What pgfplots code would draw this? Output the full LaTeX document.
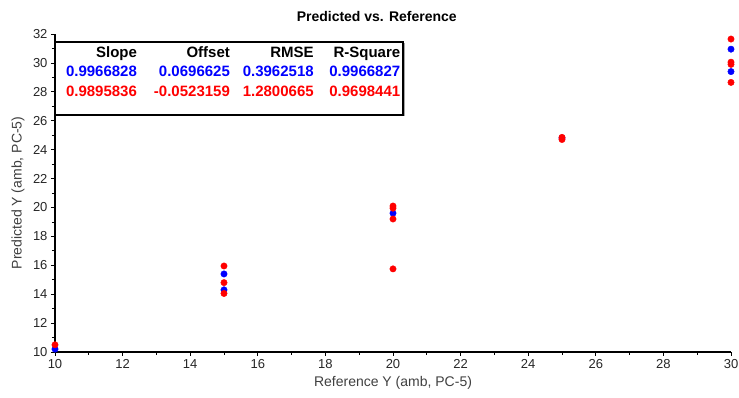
\documentclass[border=0pt]{standalone}
\usepackage{fontspec}
\setmainfont{Liberation Sans}
\usepackage{pgfplots}
\pgfplotsset{compat=1.18}
\usetikzlibrary{calc}
\definecolor{pblue}{RGB}{0,0,255}
\definecolor{pred}{RGB}{255,0,0}
\begin{document}
\begin{tikzpicture}
\begin{axis}[name=ax, scale only axis, width=676pt, height=318pt,
  xmin=10, xmax=30, ymin=10, ymax=32,
  xtick distance=2, ytick distance=2, minor tick num=1,
  axis x line=bottom, axis y line=left,
  axis line style={-, line width=1.4pt, black},
  tick align=outside, major tick length=4pt, minor tick length=3pt,
  every tick/.style={black, line width=0.8pt},
  ticklabel style={font=\fontsize{13}{15}\selectfont, text=black!85},
  /pgf/number format/assume math mode=true,
  clip=false,
  xlabel={Reference Y (amb, PC-5)},
  ylabel={Predicted Y (amb, PC-5)},
  every axis x label/.style={at={(axis description cs:0.5,-0.0975)}, anchor=center, font=\fontsize{14}{16}\selectfont, text=black!75},
  every axis y label/.style={at={(axis description cs:-0.0547,0.5)}, rotate=90, anchor=center, font=\fontsize{14}{16}\selectfont, text=black!75},
  title={Predicted vs. Reference},
  every axis title/.style={at={(axis description cs:0.476,1.0566)}, anchor=center, font=\bfseries\fontsize{14}{16}\selectfont},
]
\addplot[only marks, mark=*, mark size=3.2pt, pblue, mark options={draw=pblue, fill=pblue}] coordinates {
  (10,10.2) (15,15.4) (15,14.3) (20,19.6) (25,24.8) (30,30.95) (30,29.4)
};
\addplot[only marks, mark=*, mark size=3.2pt, pred, mark options={draw=pred, fill=pred}] coordinates {
  (10,10.5) (15,15.95) (15,14.8) (15,14.05)
  (20,20.1) (20,19.95) (20,19.2) (20,15.75)
  (25,24.85) (25,24.7)
  (30,31.65) (30,30.05) (30,29.9) (30,28.65)
};
% statistics box
\fill[black!35] (axis cs:10.06,26.33) rectangle (axis cs:20.36,31.38);
\draw[line width=1.4pt, fill=white] (axis cs:10,26.4) rectangle (axis cs:20.3,31.45);
\begin{scope}[every node/.style={anchor=base east, inner sep=0pt, font=\bfseries\fontsize{15}{17}\selectfont}]
\node at (axis cs:12.43,30.35) {Slope};
\node at (axis cs:15.18,30.35) {Offset};
\node at (axis cs:17.66,30.35) {RMSE};
\node at (axis cs:20.22,30.35) {R-Square};
\node[text=pblue] at (axis cs:12.43,29.03) {0.9966828};
\node[text=pblue] at (axis cs:15.18,29.03) {0.0696625};
\node[text=pblue] at (axis cs:17.66,29.03) {0.3962518};
\node[text=pblue] at (axis cs:20.22,29.03) {0.9966827};
\node[text=pred] at (axis cs:12.43,27.65) {0.9895836};
\node[text=pred] at (axis cs:15.18,27.65) {-0.0523159};
\node[text=pred] at (axis cs:17.66,27.65) {1.2800665};
\node[text=pred] at (axis cs:20.22,27.65) {0.9698441};
\end{scope}
\end{axis}
\pgfresetboundingbox
\path ($(ax.south west)+(-55pt,-46pt)$) rectangle ($(ax.north east)+(8pt,34pt)$);
\end{tikzpicture}
\end{document}
